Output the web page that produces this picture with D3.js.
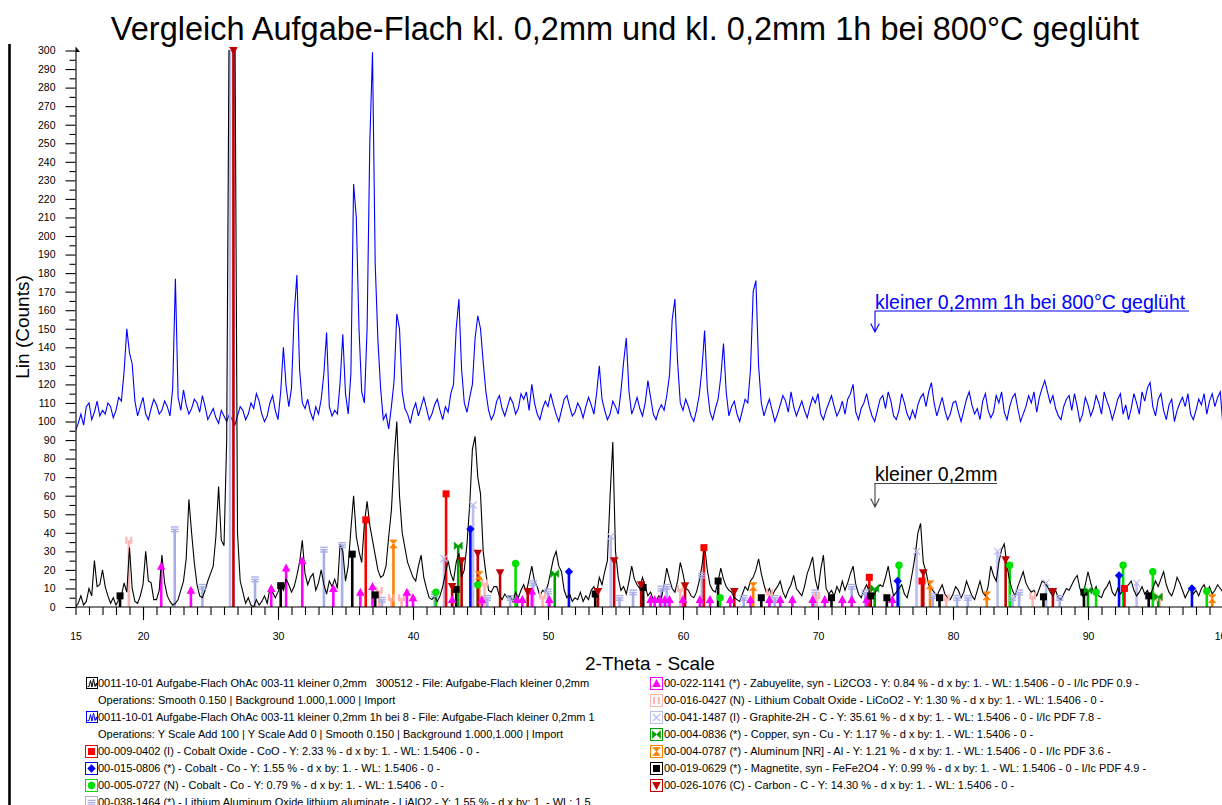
<!DOCTYPE html>
<html>
<head>
<meta charset="utf-8">
<script src="https://cdn.jsdelivr.net/npm/d3@7"></script>
<style>
  body { margin: 0; background: #fff; }
  svg { display: block; }
  text { font-family: "Liberation Sans", Arial, sans-serif; }
</style>
</head>
<body>
<svg id="chart" width="1222" height="805"></svg>
<script>
// ---- Measured scans: 2-theta grid from 15 deg in 0.2 deg steps ----
const angleStart = 15;
const angleStep = 0.2;

// kleiner 0,2mm (as measured, Lin counts)
const countsBelow = [
  0, 2, 6, 1, 3, 10, 6, 25, 11, 12,
  20, 11, 6, 2, 5, 1, 4, 6, 13, 8,
  32, 10, 3, 2, 6, 12, 30, 14, 13, 4,
  4, 9, 28, 13, 6, 3, 1, 2, 4, 9,
  14, 26, 58, 40, 24, 12, 6, 5, 9, 14,
  18, 22, 38, 65, 36, 33, 90, 340, 400, 330,
  40, 14, 8, 2, 5, 1, 0, 4, 1, 3,
  6, 2, 10, 8, 5, 8, 12, 9, 15, 12,
  8, 11, 17, 24, 36, 18, 12, 16, 18, 9,
  13, 20, 12, 7, 14, 11, 15, 10, 34, 30,
  14, 22, 42, 60, 38, 30, 24, 45, 57, 44,
  36, 28, 20, 16, 17, 22, 38, 52, 80, 100,
  60, 40, 32, 24, 20, 16, 14, 22, 28, 16,
  10, 5, 4, 6, 3, 6, 11, 18, 25, 18,
  14, 24, 29, 16, 20, 34, 55, 85, 92, 70,
  61, 30, 18, 9, 8, 11, 11, 6, 4, 7,
  5, 6, 3, 8, 5, 9, 12, 8, 15, 22,
  14, 11, 6, 9, 8, 12, 19, 26, 30, 22,
  19, 9, 5, 7, 3, 5, 4, 8, 3, 6,
  4, 9, 11, 7, 16, 12, 19, 25, 60, 89,
  30, 16, 9, 11, 7, 14, 22, 15, 12, 10,
  16, 11, 6, 8, 4, 3, 6, 5, 12, 21,
  15, 10, 8, 14, 24, 18, 10, 9, 6, 5,
  8, 14, 22, 33, 20, 12, 9, 8, 14, 21,
  15, 11, 9, 8, 5, 4, 3, 7, 11, 9,
  14, 16, 20, 26, 18, 12, 7, 10, 6, 9,
  11, 14, 8, 5, 9, 12, 17, 10, 8, 6,
  11, 18, 22, 27, 15, 9, 20, 28, 10, 7,
  9, 6, 11, 8, 14, 9, 13, 18, 22, 12,
  7, 5, 9, 12, 8, 5, 7, 10, 12, 11,
  16, 22, 13, 6, 8, 10, 12, 7, 5, 11,
  19, 28, 40, 45, 24, 19, 12, 10, 8, 6,
  9, 12, 7, 5, 4, 7, 11, 9, 5, 8,
  14, 10, 6, 4, 9, 14, 8, 6, 11, 22,
  17, 14, 24, 31, 34, 22, 14, 9, 6, 11,
  15, 19, 13, 10, 8, 9, 6, 10, 14, 13,
  11, 8, 6, 9, 5, 4, 7, 10, 9, 12,
  15, 17, 10, 6, 12, 19, 13, 8, 11, 6,
  5, 9, 11, 14, 8, 6, 10, 7, 9, 11,
  12, 14, 9, 6, 8, 11, 7, 9, 6, 10,
  14, 11, 15, 19, 12, 8, 6, 10, 16, 13,
  9, 5, 8, 11, 7, 9, 6, 10, 12, 8,
  11, 7, 9, 12, 10, 8
];

// kleiner 0,2mm 1h bei 800°C geglüht (Y Scale Add 100)
const countsAbove = [
  95, 99, 104, 98, 108, 110, 101, 105, 111, 103,
  106, 104, 110, 108, 102, 106, 113, 111, 127, 150,
  137, 131, 111, 103, 108, 113, 104, 101, 107, 112,
  109, 104, 106, 111, 108, 103, 118, 177, 113, 106,
  117, 109, 104, 107, 112, 110, 105, 114, 108, 101,
  104, 107, 102, 99, 106, 103, 100, 104, 101, 98,
  103, 108, 106, 101, 104, 110, 107, 115, 111, 104,
  100, 103, 110, 114, 106, 101, 116, 140, 119, 108,
  118, 158, 179, 128, 110, 107, 112, 105, 101, 108,
  104, 112, 126, 148, 108, 103, 106, 104, 121, 147,
  115, 104, 126, 228, 210, 150, 116, 110, 150, 250,
  299, 185, 144, 118, 101, 104, 96, 108, 122, 158,
  150, 116, 107, 104, 99, 106, 110, 103, 108, 113,
  107, 101, 104, 109, 112, 106, 101, 108, 105, 115,
  120, 150, 166, 128, 110, 105, 113, 120, 145, 157,
  150, 132, 116, 106, 101, 104, 111, 114, 107, 103,
  108, 113, 110, 104, 107, 115, 112, 116, 106, 120,
  110, 104, 101, 107, 111, 108, 115, 109, 104, 100,
  106, 112, 114, 108, 103, 105, 110, 107, 102, 108,
  113, 109, 104, 115, 130, 112, 106, 101, 104, 111,
  108, 104, 116, 132, 145, 116, 104, 108, 113, 107,
  103, 110, 122, 113, 104, 101, 106, 109, 106, 114,
  125, 155, 166, 132, 110, 106, 112, 108, 103, 100,
  106, 114, 128, 149, 118, 105, 101, 107, 112, 124,
  142, 116, 103, 108, 111, 104, 100, 106, 112, 110,
  128, 170, 176, 130, 110, 103, 108, 112, 106, 100,
  104, 109, 114, 111, 105, 116, 108, 103, 107, 111,
  106, 102, 108, 113, 110, 115, 104, 101, 106, 110,
  114, 108, 103, 106, 111, 104, 112, 115, 120, 105,
  101, 107, 110, 115, 108, 103, 100, 106, 112, 114,
  107, 116, 111, 103, 101, 106, 115, 110, 104, 101,
  106, 102, 109, 113, 115, 108, 116, 121, 110, 103,
  108, 113, 106, 101, 104, 110, 111, 105, 100, 106,
  112, 116, 109, 104, 107, 101, 111, 115, 106, 102,
  105, 114, 110, 116, 105, 101, 108, 113, 115, 107,
  100, 104, 108, 114, 110, 116, 105, 113, 118, 122,
  116, 110, 114, 107, 103, 101, 108, 112, 114, 106,
  115, 108, 100, 104, 113, 109, 103, 107, 114, 110,
  104, 116, 111, 107, 101, 106, 112, 115, 104, 109,
  101, 107, 115, 110, 104, 116, 111, 118, 121, 108,
  103, 112, 115, 106, 101, 109, 112, 100, 106, 110,
  113, 108, 115, 104, 101, 106, 112, 109, 115, 104,
  111, 115, 108, 113, 116, 97
];

// ---- Reference patterns: [2-theta, stick height in counts] ----
const cobaltOxideLines = [[36.5, 47], [42.45, 61], [61.55, 32], [73.8, 16], [77.7, 14], [92.7, 10]];
const cobaltCubicLines = [[44.25, 42], [51.55, 19], [75.9, 14], [92.3, 17], [97.7, 10]];
const cobaltHexLines = [[41.7, 8], [44.8, 12], [47.6, 23.5], [62.75, 5], [76.0, 22.5], [84.2, 22.5], [90.6, 8], [92.6, 22.5], [94.8, 19], [98.8, 8.5]];
const lithiumAluminateLines = [[22.35, 42], [24.4, 11], [28.3, 15], [33.4, 31], [34.75, 33.5], [37.7, 4], [41.6, 7], [45.5, 5], [47.2, 5], [48.9, 13], [50.0, 8.5], [55.3, 5], [56.3, 8], [58.4, 10], [58.8, 11], [61.4, 17], [64.5, 5], [66.8, 5], [69.8, 8], [72.5, 11], [73.5, 8], [78.5, 6], [80.3, 5], [81.1, 5], [84.4, 5], [84.9, 8], [87.9, 5]];
const zabuyeliteLines = [[21.35, 22], [23.55, 9], [29.5, 10], [30.6, 21], [31.8, 25], [34.1, 10], [36.1, 8], [37.0, 11], [39.55, 8], [40.0, 5], [42.9, 4], [45.1, 4], [47.7, 4], [48.1, 4], [48.8, 8.5], [50.1, 4], [57.6, 4], [57.9, 4], [58.3, 4], [58.65, 4], [59.0, 4], [60.0, 4], [61.25, 4], [62.0, 4], [63.5, 4], [65.0, 4], [66.4, 4], [67.2, 4], [68.1, 4], [69.6, 4], [70.5, 4], [71.8, 4], [72.5, 4], [73.6, 4], [75.5, 4]];
const lithiumCobaltOxideLines = [[18.95, 36], [37.5, 9], [38.4, 5], [39.15, 5], [45.3, 13], [49.6, 6], [59.8, 10], [66.4, 8], [69.9, 6], [79.5, 5], [85.9, 6], [95.3, 5]];
const graphiteLines = [[26.45, 330], [42.3, 26], [44.45, 55], [54.65, 38], [77.3, 30], [83.3, 30], [86.9, 13], [93.6, 13]];
const copperLines = [[43.35, 33], [50.5, 18], [74.2, 10], [90.0, 9], [95.2, 5.5]];
const aluminumLines = [[38.55, 34], [44.9, 17], [65.2, 11], [78.3, 12], [82.5, 6], [99.2, 4.5]];
const magnetiteLines = [[18.3, 6], [30.2, 11.5], [35.5, 28.5], [37.2, 6.5], [43.2, 9.5], [53.5, 7], [57.05, 10.5], [62.6, 14], [65.8, 5], [71.0, 5], [73.9, 6], [75.1, 5], [79.0, 5], [86.7, 5.5], [89.7, 8], [94.5, 6]];
const carbonLines = [[26.7, 300], [42.9, 11], [43.6, 25], [44.8, 29], [46.45, 18.5], [48.5, 8.3], [53.7, 8.3], [54.9, 25], [56.9, 12], [60.15, 11.5], [63.8, 8.3], [77.8, 18.5], [83.9, 25.5], [87.4, 8.3]];

// ---- Axes ----
const xTickValues = [15, 20, 30, 40, 50, 60, 70, 80, 90, 100];
const yTickValues = [0, 10, 20, 30, 40, 50, 60, 70, 80, 90, 100, 110, 120, 130, 140, 150,
  160, 170, 180, 190, 200, 210, 220, 230, 240, 250, 260, 270, 280, 290, 300];

// ---- Text ----
const chartTitle = "Vergleich Aufgabe-Flach kl. 0,2mm und kl. 0,2mm 1h bei 800°C geglüht";
const xAxisTitle = "2-Theta - Scale";
const yAxisTitle = "Lin (Counts)";
const labelAbove = "kleiner 0,2mm 1h bei 800°C geglüht";
const labelBelow = "kleiner 0,2mm";
const scanLegendRows = [
  "0011-10-01 Aufgabe-Flach OhAc 003-11 kleiner 0,2mm   300512 - File: Aufgabe-Flach kleiner 0,2mm",
  "Operations: Smooth 0.150 | Background 1.000,1.000 | Import",
  "0011-10-01 Aufgabe-Flach OhAc 003-11 kleiner 0,2mm 1h bei 8 - File: Aufgabe-Flach kleiner 0,2mm 1",
  "Operations: Y Scale Add 100 | Y Scale Add 0 | Smooth 0.150 | Background 1.000,1.000 | Import"
];

const phases = [
  { lines: lithiumAluminateLines, color: "#a9aee8", shape: "stripes", label: "00-038-1464 (*) - Lithium Aluminum Oxide lithium aluminate - LiAlO2 - Y: 1.55 % - d x by: 1. - WL: 1.5" },
  { lines: graphiteLines, color: "#bcbcf4", shape: "cross", label: "00-041-1487 (I) - Graphite-2H - C - Y: 35.61 % - d x by: 1. - WL: 1.5406 - 0 - I/Ic PDF 7.8 -" },
  { lines: lithiumCobaltOxideLines, color: "#ffb4b4", shape: "bars", label: "00-016-0427 (N) - Lithium Cobalt Oxide - LiCoO2 - Y: 1.30 % - d x by: 1. - WL: 1.5406 - 0 -" },
  { lines: zabuyeliteLines, color: "#ff00ff", shape: "triUp", label: "00-022-1141 (*) - Zabuyelite, syn - Li2CO3 - Y: 0.84 % - d x by: 1. - WL: 1.5406 - 0 - I/Ic PDF 0.9 -" },
  { lines: magnetiteLines, color: "#000000", shape: "square", label: "00-019-0629 (*) - Magnetite, syn - FeFe2O4 - Y: 0.99 % - d x by: 1. - WL: 1.5406 - 0 - I/Ic PDF 4.9 -" },
  { lines: aluminumLines, color: "#ff8000", shape: "hourglass", label: "00-004-0787 (*) - Aluminum [NR] - Al - Y: 1.21 % - d x by: 1. - WL: 1.5406 - 0 - I/Ic PDF 3.6 -" },
  { lines: copperLines, color: "#00a000", shape: "bowtie", label: "00-004-0836 (*) - Copper, syn - Cu - Y: 1.17 % - d x by: 1. - WL: 1.5406 - 0 -" },
  { lines: cobaltHexLines, color: "#00e000", shape: "circle", label: "00-005-0727 (N) - Cobalt - Co - Y: 0.79 % - d x by: 1. - WL: 1.5406 - 0 -" },
  { lines: cobaltCubicLines, color: "#0000ff", shape: "diamond", label: "00-015-0806 (*) - Cobalt - Co - Y: 1.55 % - d x by: 1. - WL: 1.5406 - 0 -" },
  { lines: cobaltOxideLines, color: "#ff0000", shape: "square", label: "00-009-0402 (I) - Cobalt Oxide - CoO - Y: 2.33 % - d x by: 1. - WL: 1.5406 - 0 -" },
  { lines: carbonLines, color: "#c00000", shape: "triDown", label: "00-026-1076 (C) - Carbon - C - Y: 14.30 % - d x by: 1. - WL: 1.5406 - 0 -" }
];

// Legend layout: which phase goes in which column / row
const leftPhaseOrder = [9, 8, 7, 0];
const rightPhaseOrder = [3, 2, 1, 6, 5, 4, 10];

// ---- Drawing ----
const svg = d3.select("#chart");
const x = d3.scaleLinear().domain([15, 100]).range([75.5, 1223]);
const y = d3.scaleLinear().domain([0, 300]).range([607, 50.5]);

const defs = svg.append("defs");
defs.append("clipPath").attr("id", "plotClip")
  .append("rect").attr("x", 76).attr("y", 50).attr("width", 1150).attr("height", 557);

function drawMarker(g, shape, color) {
  switch (shape) {
    case "square":
      g.append("rect").attr("x", -3.5).attr("y", -3.5).attr("width", 7).attr("height", 7).attr("fill", color); break;
    case "diamond":
      g.append("path").attr("d", "M0,-4.2L4.2,0L0,4.2L-4.2,0Z").attr("fill", color); break;
    case "circle":
      g.append("circle").attr("r", 3.7).attr("fill", color); break;
    case "triUp":
      g.append("path").attr("d", "M0,-4.5L4.3,3.5L-4.3,3.5Z").attr("fill", color); break;
    case "triDown":
      g.append("path").attr("d", "M0,4.5L4.3,-3.5L-4.3,-3.5Z").attr("fill", color); break;
    case "bars":
      g.append("rect").attr("x", -3.5).attr("y", -3.5).attr("width", 2.2).attr("height", 7).attr("fill", color);
      g.append("rect").attr("x", 1.3).attr("y", -3.5).attr("width", 2.2).attr("height", 7).attr("fill", color); break;
    case "stripes":
      [-2.8, -0.5, 1.8].forEach(o => g.append("rect").attr("x", -3.8).attr("y", o).attr("width", 7.6).attr("height", 1.4).attr("fill", color)); break;
    case "cross":
      g.append("path").attr("d", "M-3.5,-3.5L3.5,3.5M3.5,-3.5L-3.5,3.5").attr("stroke", color).attr("stroke-width", 1.2).attr("fill", "none"); break;
    case "bowtie":
      g.append("path").attr("d", "M-4,-3.8L0,0L-4,3.8ZM4,-3.8L0,0L4,3.8Z").attr("fill", color)
        .attr("stroke", color).attr("stroke-width", 0.6); break;
    case "hourglass":
      g.append("path").attr("d", "M-3.8,-4L3.8,-4L0,0ZM-3.8,4L3.8,4L0,0Z").attr("fill", color)
        .attr("stroke", color).attr("stroke-width", 0.6); break;
  }
}

const angleOf = i => angleStart + i * angleStep;
const traceLine = d3.line().x((d, i) => x(angleOf(i))).y(d => y(d));

// upper scan
svg.append("path").datum(countsAbove)
  .attr("clip-path", "url(#plotClip)")
  .attr("d", traceLine).attr("fill", "none").attr("stroke", "#0000ff").attr("stroke-width", 1.1);

// reference sticks
const sticks = svg.append("g").attr("clip-path", "url(#plotClip)");
phases.forEach(p => {
  sticks.selectAll(null).data(p.lines).enter().append("line")
    .attr("x1", d => x(d[0])).attr("x2", d => x(d[0]))
    .attr("y1", y(0)).attr("y2", d => y(d[1]))
    .attr("stroke", p.color).attr("stroke-width", 2.6);
});

// lower scan
svg.append("path").datum(countsBelow)
  .attr("clip-path", "url(#plotClip)")
  .attr("d", traceLine).attr("fill", "none").attr("stroke", "#000").attr("stroke-width", 1.1);

// stick markers
phases.forEach(p => {
  p.lines.filter(d => d[1] <= 300).forEach(d => {
    const g = svg.append("g").attr("transform", `translate(${x(d[0])},${y(d[1])})`);
    drawMarker(g, p.shape, p.color);
  });
});

// axes
const axisStyle = g => {
  g.selectAll("path, line").attr("stroke", "#000").attr("stroke-width", 1.1);
  g.selectAll("text").attr("font-family", "'Liberation Sans', Arial, sans-serif").attr("font-size", 10.5).attr("fill", "#000");
};

svg.append("g").attr("transform", `translate(0,${y(0)})`)
  .call(d3.axisBottom(x).tickValues(d3.range(15, 101)).tickSize(8).tickFormat("").tickSizeOuter(0))
  .call(g => g.select(".domain").remove())
  .call(axisStyle);
svg.append("g").attr("transform", `translate(0,${y(0)})`)
  .call(d3.axisBottom(x).tickValues(xTickValues.filter(v => v !== 15)).tickSize(13).tickFormat("").tickSizeOuter(0))
  .call(g => g.select(".domain").remove())
  .call(axisStyle);
svg.append("g").attr("transform", `translate(0,${y(0)})`)
  .call(d3.axisBottom(x).tickValues(xTickValues).tickSize(0).tickPadding(26).tickFormat(d3.format("d")).tickSizeOuter(0))
  .call(g => g.select(".domain").attr("d", `M76,0H1222`))
  .call(axisStyle);

svg.append("g").attr("transform", `translate(75.5,0)`)
  .call(d3.axisLeft(y).tickValues(yTickValues.map(v => v + 5).filter(v => v < 300)).tickSize(6).tickFormat("").tickSizeOuter(0))
  .call(g => g.select(".domain").remove())
  .call(axisStyle);
svg.append("g").attr("transform", `translate(75.5,0)`)
  .call(d3.axisLeft(y).tickValues(yTickValues).tickSize(10).tickPadding(10).tickFormat(d3.format("d")).tickSizeOuter(0))
  .call(axisStyle);

// small arrow tip on top of the value axis
svg.append("path").attr("d", `M75.5,${y(300) - 4}L80,${y(300) + 1.5}L75.5,${y(300) + 1.5}Z`).attr("fill", "#000");

// left frame edge
svg.append("line").attr("x1", 9.5).attr("x2", 9.5).attr("y1", 44).attr("y2", 805)
  .attr("stroke", "#000").attr("stroke-width", 2.6);

// titles
svg.append("text").attr("x", 625).attr("y", 40).attr("text-anchor", "middle")
  .attr("font-size", 32.5).text(chartTitle);
svg.append("text").attr("x", 650).attr("y", 670).attr("text-anchor", "middle")
  .attr("font-size", 19).text(xAxisTitle);
svg.append("text").attr("transform", "translate(29,327) rotate(-90)").attr("text-anchor", "middle")
  .attr("font-size", 19).text(yAxisTitle);

// scan labels with leader arrows
function leader(textStr, color, lineColor, tx, baseY, lineEndX, arrowY) {
  svg.append("text").attr("x", tx).attr("y", baseY).attr("font-size", 19.5).attr("fill", color).text(textStr);
  const ly = baseY + 2.5;
  svg.append("path").attr("d", `M${lineEndX},${ly}H${tx}V${arrowY}M${tx - 4.3},${arrowY - 8.5}L${tx},${arrowY}L${tx + 4.3},${arrowY - 8.5}`)
    .attr("fill", "none").attr("stroke", lineColor).attr("stroke-width", 1.1);
}
leader(labelAbove, "#0000ff", "#0000ff", 875, 308.5, 1189, 332);
leader(labelBelow, "#000", "#444", 875, 481, 997, 507);

// legend
const legendY0 = 683, legendStep = 17;
const legend = svg.append("g").attr("font-size", 11);

function traceIcon(x0, cy, color) {
  const g = legend.append("g").attr("transform", `translate(${x0},${cy - 6})`);
  g.append("rect").attr("x", 0.5).attr("y", 0.5).attr("width", 11).attr("height", 11)
    .attr("fill", "none").attr("stroke", color).attr("stroke-width", 1);
  g.append("polyline").attr("points", "1.5,9.5 3,9.5 4.5,3.5 6,10 7.5,2 9,9.5 10.5,6 11,9")
    .attr("fill", "none").attr("stroke", color).attr("stroke-width", 1);
}
function phaseIcon(x0, cy, p) {
  const g = legend.append("g").attr("transform", `translate(${x0},${cy - 6})`);
  g.append("rect").attr("x", 0.5).attr("y", 0.5).attr("width", 12).attr("height", 12)
    .attr("fill", "#fff").attr("stroke", p.color).attr("stroke-width", 1);
  const m = g.append("g").attr("transform", "translate(6.5,6.5)");
  drawMarker(m, p.shape, p.color);
}
function legendText(tx, cy, str) {
  legend.append("text").attr("x", tx).attr("y", cy + 4).attr("xml:space", "preserve")
    .style("white-space", "pre").text(str);
}

scanLegendRows.forEach((str, i) => {
  const cy = legendY0 + i * legendStep;
  if (i === 0) traceIcon(86, cy, "#000");
  if (i === 2) traceIcon(86, cy, "#0000ff");
  legendText(98, cy, str);
});
leftPhaseOrder.forEach((pi, k) => {
  const cy = legendY0 + (k + 4) * legendStep;
  phaseIcon(85, cy, phases[pi]);
  legendText(98, cy, phases[pi].label);
});
rightPhaseOrder.forEach((pi, k) => {
  const cy = legendY0 + k * legendStep;
  phaseIcon(650, cy, phases[pi]);
  legendText(664, cy, phases[pi].label);
});
</script>
</body>
</html>
